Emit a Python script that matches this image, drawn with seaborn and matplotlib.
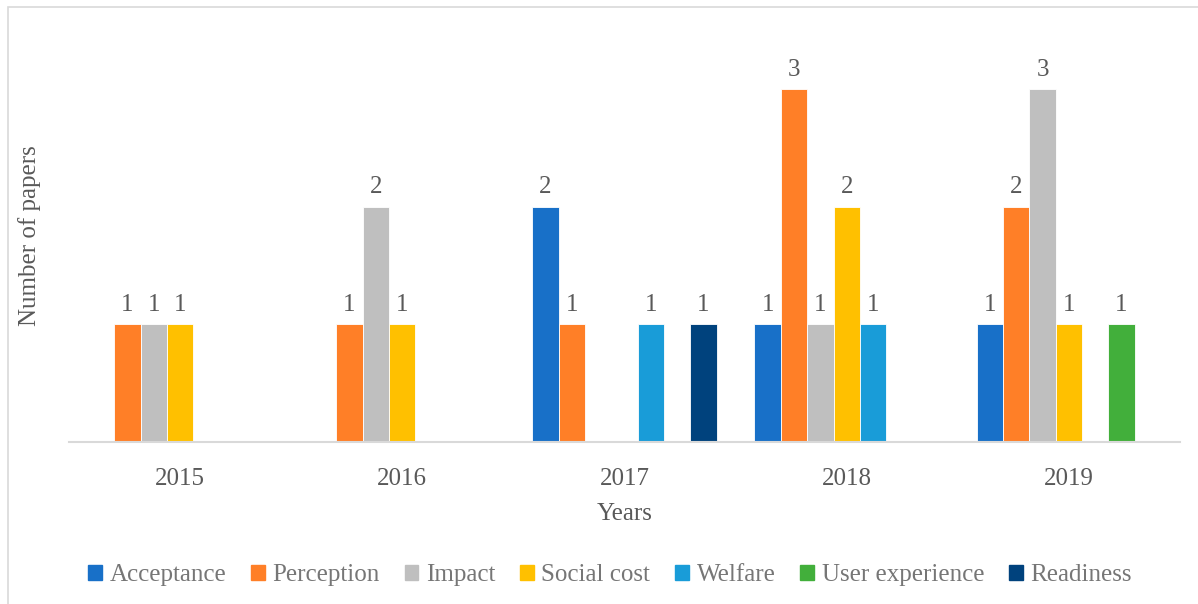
import pandas as pd
import matplotlib
matplotlib.use('Agg')
import matplotlib.pyplot as plt
import seaborn as sns
from matplotlib.patches import Rectangle

# dados
anos = ['2015', '2016', '2017', '2018', '2019']
temas = ['Acceptance', 'Perception', 'Impact', 'Social cost', 'Welfare', 'User experience', 'Readiness']
acceptance = [0, 0, 2, 1, 1]
perception = [1, 1, 1, 3, 2]
impact = [1, 2, 0, 1, 3]
social_cost = [1, 1, 0, 2, 1]
welfare = [0, 0, 1, 1, 0]
user_experience = [0, 0, 0, 0, 1]
readiness = [0, 0, 1, 0, 0]
cores = ['#1870C8', '#FF7F27', '#BFBFBF', '#FFC000', '#199CD8', '#42AF3B', '#00427D']

valores = [acceptance, perception, impact, social_cost, welfare, user_experience, readiness]
df = pd.DataFrame([
    {'ano': a, 'tema': t, 'n': v[i]}
    for t, v in zip(temas, valores) for i, a in enumerate(anos)
])

sns.set_style('white')
plt.rcParams['font.family'] = ['Liberation Serif', 'DejaVu Serif']
cinza = '#595959'
tam = 18

fig = plt.figure(figsize=(11.98, 6.04), dpi=100)
ax = fig.add_axes([69 / 1198, 162 / 604, 1111 / 1198, 412 / 604])

sns.barplot(data=df, x='ano', y='n', hue='tema', order=anos, hue_order=temas,
            palette=cores, saturation=1, width=0.83, ax=ax, legend=False,
            edgecolor='white', linewidth=0.6)

# rótulos
for cont in ax.containers:
    for barra in cont:
        h = barra.get_height()
        if h > 0:
            ax.text(barra.get_x() + barra.get_width() / 2, h + 0.07, f'{int(h)}',
                    ha='center', va='bottom', fontsize=tam, color=cinza)

ax.set_xlim(-0.5, 4.5)
ax.set_ylim(0, 3.5)
ax.set_yticks([])
ax.tick_params(axis='x', length=0, labelsize=tam, labelcolor=cinza, pad=19)
for lado in ['top', 'right', 'left']:
    ax.spines[lado].set_visible(False)
ax.spines['bottom'].set_color('#D9D9D9')
ax.spines['bottom'].set_linewidth(1.5)
ax.set_xlabel('Years', fontsize=tam, color=cinza, labelpad=9)
ax.set_ylabel('Number of papers', fontsize=tam, color=cinza, labelpad=20)

handles = [Rectangle((0, 0), 1, 1, color=c) for c in cores]
fig.legend(handles, temas, loc='center', bbox_to_anchor=(610 / 1198, 1 - 575 / 604),
           ncol=7, frameon=False, fontsize=tam, labelcolor='#767676',
           handlelength=0.55, handleheight=0.55, handletextpad=0.3, columnspacing=1.0)

# moldura
fig.patches.append(Rectangle((8 / 1198, -0.1), 1.2, (604 - 7) / 604 + 0.1,
                             transform=fig.transFigure, fill=False,
                             edgecolor='#D9D9D9', linewidth=1.2))

fig.savefig('out.png', dpi=100)
